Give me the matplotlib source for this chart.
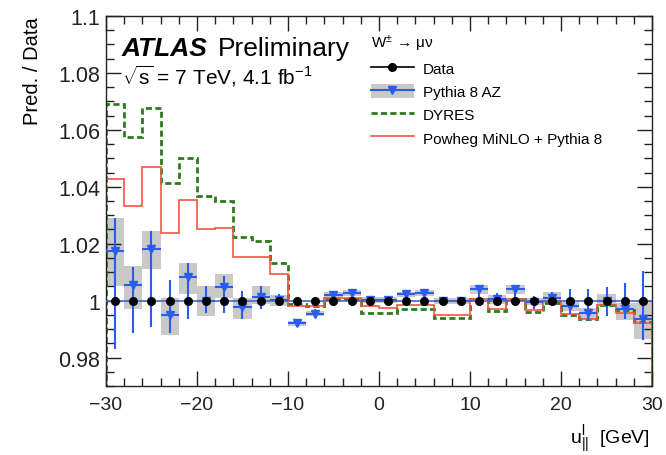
import numpy as np
import matplotlib
matplotlib.use('Agg')
import matplotlib.pyplot as plt
from matplotlib.ticker import MultipleLocator, FuncFormatter
from matplotlib.lines import Line2D
from matplotlib.patches import Patch

plt.rcParams['font.family'] = ['Liberation Sans', 'DejaVu Sans']
plt.rcParams['mathtext.fontset'] = 'custom'
plt.rcParams['mathtext.rm'] = 'Liberation Sans'
plt.rcParams['mathtext.it'] = 'Liberation Sans:italic'
plt.rcParams['mathtext.bf'] = 'Liberation Sans:bold'

# ---------------- data ----------------
bin_edges = [-30, -28, -26, -24, -22, -20, -18, -16, -14, -12, -10, -8, -6, -4, -2, 0,
             2, 4, 6, 8, 10, 12, 14, 16, 18, 20, 22, 24, 26, 28, 30]
bin_centers = [-29, -27, -25, -23, -21, -19, -17, -15, -13, -11, -9, -7, -5, -3, -1,
               1, 3, 5, 7, 9, 11, 13, 15, 17, 19, 21, 23, 25, 27, 29]

data_ratio = [1.0, 1.0, 1.0, 1.0, 1.0, 1.0, 1.0, 1.0, 1.0, 1.0, 1.0, 1.0, 1.0, 1.0, 1.0,
              1.0, 1.0, 1.0, 1.0, 1.0, 1.0, 1.0, 1.0, 1.0, 1.0, 1.0, 1.0, 1.0, 1.0, 1.0]

pythia = [1.0176, 1.0055, 1.0183, 0.9950, 1.0083, 0.9999, 1.0048, 0.9978, 1.0013, 1.0001,
          0.9920, 0.9955, 1.0019, 1.0026, 1.0002, 1.0002, 1.0022, 1.0026, 1.0000, 1.0000,
          1.0040, 1.0005, 1.0040, 0.9997, 1.0008, 0.9980, 0.9958, 1.0000, 0.9972, 0.9935]
pythia_bar_hi = [1.0290, 1.0120, 1.0243, 1.0074, 1.0133, 1.0052, 1.0086, 1.0034, 1.0051, 1.0022,
                 0.9932, 0.9970, 1.0032, 1.0038, 1.0012, 1.0012, 1.0034, 1.0038, 1.0010, 1.0010,
                 1.0056, 1.0028, 1.0056, 1.0017, 1.0031, 1.0040, 1.0040, 1.0048, 1.0063, 1.0104]
pythia_bar_lo = [0.9830, 0.9885, 0.9908, 0.9885, 0.9935, 0.9958, 0.9958, 0.9935, 0.9970, 0.9980,
                 0.9908, 0.9940, 1.0006, 1.0014, 0.9992, 0.9992, 1.0010, 1.0014, 0.9990, 0.9990,
                 0.9995, 0.9980, 0.9995, 0.9970, 0.9987, 0.9952, 0.9929, 0.9947, 0.9935, 0.9861]
band_lo = [1.0051, 0.9970, 1.0110, 0.9880, 1.0022, 0.9947, 1.0010, 0.9935, 0.9987, 0.9980,
           0.9910, 0.9945, 1.0008, 1.0015, 0.9992, 0.9992, 1.0012, 1.0015, 0.9990, 0.9990,
           1.0025, 0.9990, 1.0025, 0.9985, 0.9987, 0.9965, 0.9940, 0.9980, 0.9931, 0.9865]
band_hi = [1.0290, 1.0121, 1.0243, 1.0010, 1.0133, 1.0051, 1.0092, 1.0010, 1.0051, 1.0020,
           0.9930, 0.9965, 1.0030, 1.0037, 1.0012, 1.0012, 1.0032, 1.0037, 1.0010, 1.0010,
           1.0055, 1.0020, 1.0055, 1.0010, 1.0031, 0.9995, 0.9975, 1.0024, 0.9993, 0.9993]

dyres = [1.0690, 1.0576, 1.0676, 1.0412, 1.0500, 1.0366, 1.0350, 1.0222, 1.0208, 1.0133,
         0.9990, 0.9982, 1.0006, 1.0006, 0.9958, 0.9958, 0.9970, 0.9970, 0.9938, 0.9938,
         1.0005, 0.9965, 1.0005, 0.9960, 0.9993, 0.9950, 0.9935, 0.9985, 0.9966, 0.9925]
powheg = [1.0429, 1.0334, 1.0470, 1.0237, 1.0354, 1.0250, 1.0255, 1.0153, 1.0153, 1.0094,
          0.9980, 0.9980, 1.0010, 1.0010, 0.9980, 0.9976, 0.9985, 0.9985, 0.9950, 0.9950,
          1.0005, 0.9972, 1.0005, 0.9968, 1.0000, 0.9955, 0.9937, 0.9985, 0.9958, 0.9920]

# ---------------- styles ----------------
BLUE = '#2a5cf0'
GRAY = '#c9c9c9'
GREEN = '#2f7a1f'
RED = '#f2553f'

fig = plt.figure(figsize=(6.66, 4.56), dpi=100)
ax = fig.add_axes([0.159, 0.151, 0.820, 0.812])

centers = np.array(bin_centers, dtype=float)
edges = np.array(bin_edges, dtype=float)
widths = np.diff(edges)
p = np.array(pythia)
blo = np.array(band_lo)
bhi = np.array(band_hi)

ax.bar(centers, bhi - blo, bottom=blo, width=widths, color=GRAY, edgecolor='none', zorder=1)

ax.stairs(dyres, edges, color=GREEN, lw=2.0, linestyle=(0, (2.2, 1.2)), zorder=2)
ax.stairs(powheg, edges, color=RED, lw=1.2, zorder=2)

yerr_p = [np.clip(p - np.array(pythia_bar_lo), 0, None), np.clip(np.array(pythia_bar_hi) - p, 0, None)]
ax.errorbar(centers, p, xerr=widths / 2, yerr=yerr_p, fmt='v', color=BLUE, ms=6,
            elinewidth=1.5, capsize=0, zorder=3)

ax.errorbar(centers, data_ratio, xerr=widths / 2, fmt='o', color='black', ecolor='#4a62c8',
            ms=5.5, elinewidth=1.2, capsize=0, zorder=4)

ax.set_xlim(-30, 30)
ax.set_ylim(0.97, 1.1)

ax.xaxis.set_major_locator(MultipleLocator(10))
ax.xaxis.set_minor_locator(MultipleLocator(2))
ax.yaxis.set_major_locator(MultipleLocator(0.02))
ax.yaxis.set_minor_locator(MultipleLocator(0.005))
ax.yaxis.set_major_formatter(FuncFormatter(lambda v, pos: '%g' % round(v, 4)))
ax.xaxis.set_major_formatter(FuncFormatter(lambda v, pos: ('%g' % v).replace('-', '\u2212')))

ax.tick_params(which='both', direction='in', top=True, right=True, colors='#222222')
ax.tick_params(axis='x', labelsize=14, pad=7)
ax.tick_params(axis='y', labelsize=15.5, pad=4)
ax.tick_params(which='major', length=11, width=1.0)
ax.tick_params(which='minor', length=6, width=1.0)
for s in ax.spines.values():
    s.set_linewidth(1.0)
    s.set_color('#222222')

ax.set_ylabel('Pred. / Data', fontsize=14.5, loc='top', labelpad=12)
fig.text(650 / 666, 1 - 440 / 456, r'$\mathrm{u}_{||}^{\mathrm{l}}$  [GeV]', fontsize=14,
         ha='right', va='center')

ax.text(0.029, 0.912, 'ATLAS', transform=ax.transAxes, fontsize=19, fontweight='bold',
        fontstyle='italic', va='center', ha='left')
ax.text(0.205, 0.912, 'Preliminary', transform=ax.transAxes, fontsize=19, va='center', ha='left')
ax.text(0.029, 0.84, r'$\sqrt{\mathrm{s}}$ = 7 TeV, 4.1 fb$^{-1}$', transform=ax.transAxes,
        fontsize=15, va='center', ha='left')

h_data = Line2D([], [], color='black', marker='o', ms=5.5, lw=1.2)
h_pyth = (Patch(facecolor=GRAY, edgecolor='none'),
          Line2D([], [], color=BLUE, marker='v', ms=6, lw=1.5))
h_dyres = Line2D([], [], color=GREEN, lw=2.0, linestyle=(0, (2.2, 1.2)))
h_pow = Line2D([], [], color=RED, lw=1.2)
leg = ax.legend([h_data, h_pyth, h_dyres, h_pow],
                ['Data', 'Pythia 8 AZ', 'DYRES', 'Powheg MiNLO + Pythia 8'],
                title='W$^{\\pm}$ \u2192 \u03bc\u03bd', title_fontsize=11,
                alignment='left', loc='upper left', bbox_to_anchor=(0.485, 0.955),
                frameon=False, fontsize=11, handlelength=2.8, handleheight=1.1,
                handletextpad=0.6, labelspacing=0.5, borderpad=0.0, borderaxespad=0.0)

fig.savefig('out.png', dpi=100)
